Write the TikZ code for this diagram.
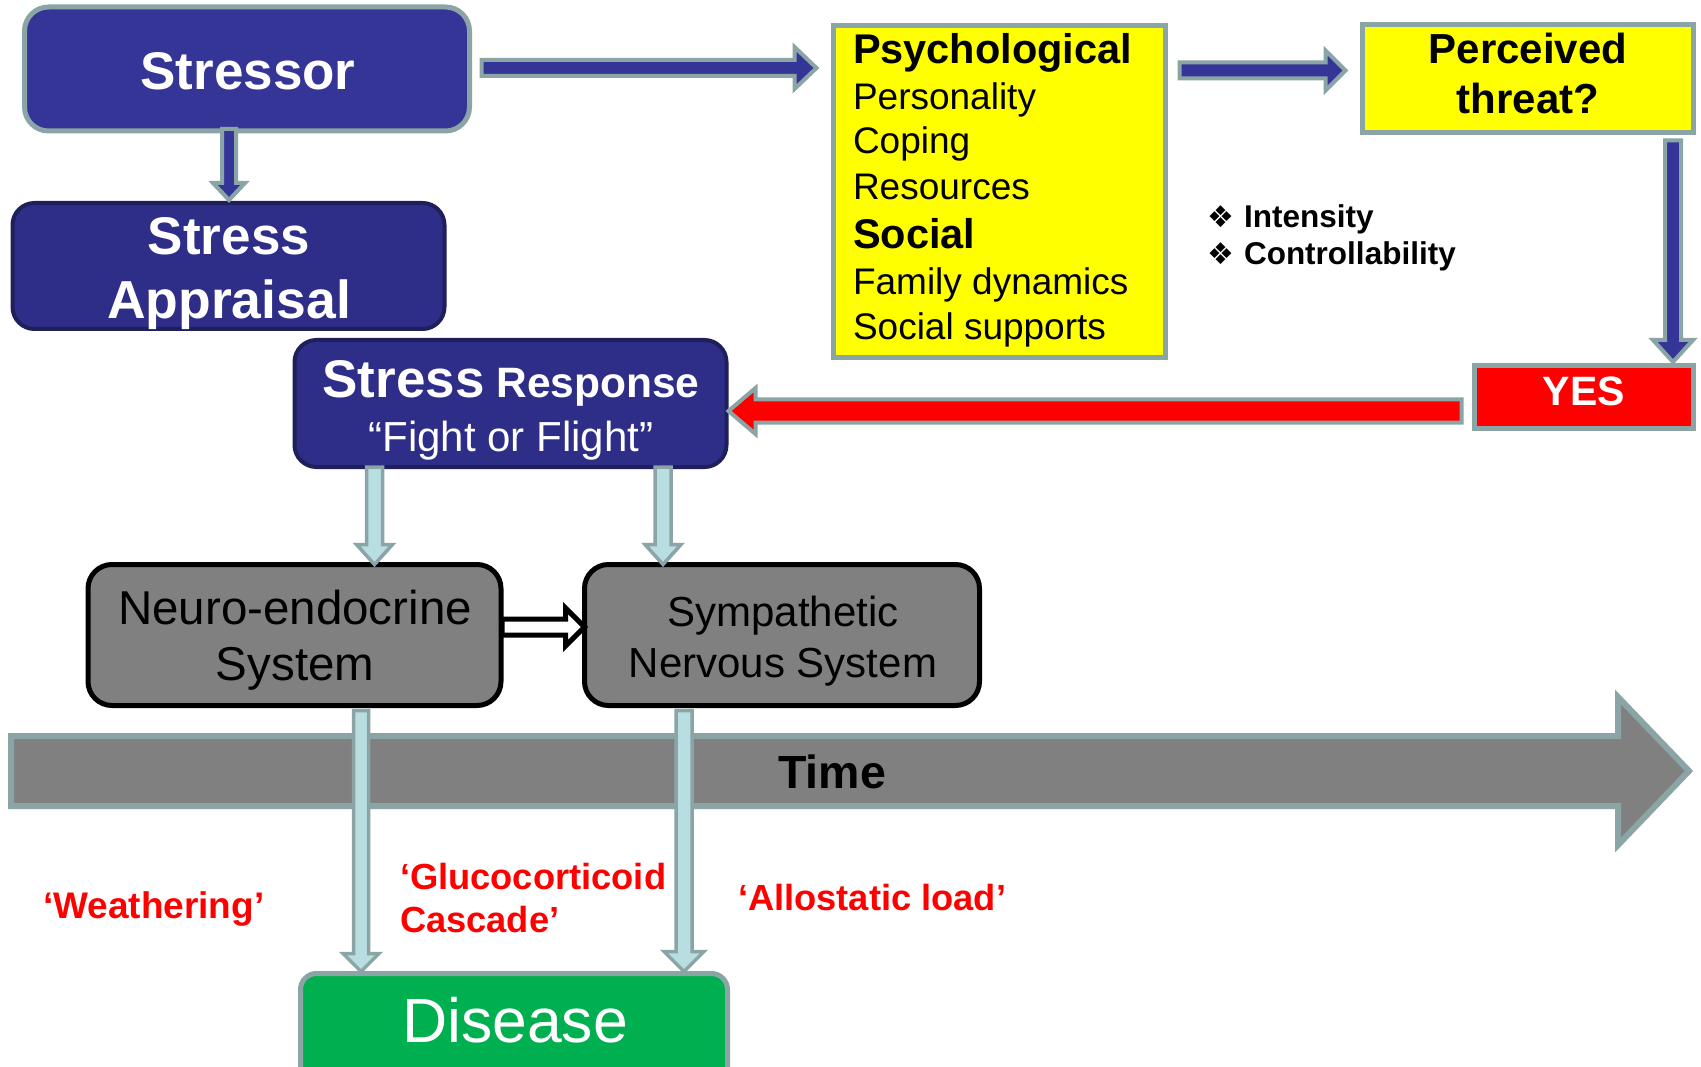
\documentclass[tikz,border=0pt]{standalone}
\usepackage{fontspec}
\setmainfont{Liberation Sans}
\newfontfamily\symfont{DejaVu Sans}
\usetikzlibrary{calc}
\newcommand{\fsz}[1]{\fontsize{#1pt}{#1pt}\selectfont}
\definecolor{stressblue}{RGB}{53,53,151}
\definecolor{navyfill}{RGB}{46,46,136}
\definecolor{navyborder}{RGB}{31,31,92}
\definecolor{tealgray}{RGB}{139,165,166}
\definecolor{lightblue}{RGB}{184,222,226}
\definecolor{midgray}{RGB}{128,128,128}
\definecolor{diseasegreen}{RGB}{0,176,80}
\definecolor{pureyellow}{RGB}{255,255,0}
\definecolor{purered}{RGB}{255,0,0}
% horizontal block arrow: style, start, tip, shaft half width, head half width, head length
\newcommand{\hblock}[6]{%
 \draw[#1] let \p1=(#2), \p2=(#3), \n1={sign(\x2-\x1)} in
 (\x1,{\y1+#4}) -- ({\x2-(\n1)*#6},{\y1+#4}) -- ({\x2-(\n1)*#6},{\y1+#5}) -- (\x2,\y1)
 -- ({\x2-(\n1)*#6},{\y1-#5}) -- ({\x2-(\n1)*#6},{\y1-#4}) -- (\x1,{\y1-#4}) -- cycle;}
% vertical block arrow
\newcommand{\vblock}[6]{%
 \draw[#1] let \p1=(#2), \p2=(#3), \n1={sign(\y2-\y1)} in
 ({\x1+#4},\y1) -- ({\x1+#4},{\y2-(\n1)*#6}) -- ({\x1+#5},{\y2-(\n1)*#6}) -- (\x1,\y2)
 -- ({\x1-#5},{\y2-(\n1)*#6}) -- ({\x1-#4},{\y2-(\n1)*#6}) -- ({\x1-#4},\y1) -- cycle;}
\tikzset{
 box/.style={rectangle, inner sep=0pt, outer sep=0pt},
 bluebox/.style={box, fill=stressblue, draw=tealgray, line width=5pt, rounded corners=24pt},
 navybox/.style={box, fill=navyfill, draw=navyborder, line width=4pt, rounded corners=22pt},
 yellowbox/.style={box, fill=pureyellow, draw=tealgray, line width=5pt},
 redbox/.style={box, fill=purered, draw=tealgray, line width=5pt},
 graybox/.style={box, fill=midgray, draw=black, line width=5pt, rounded corners=24pt},
 greenbox/.style={box, fill=diseasegreen, draw=tealgray, line width=5pt, rounded corners=16pt},
 lbl/.style={inner sep=0pt, outer sep=0pt, anchor=base},
 lblw/.style={inner sep=0pt, outer sep=0pt, anchor=base west},
 bluearrow/.style={fill=stressblue, draw=tealgray, line width=4pt, line join=miter},
 redarrow/.style={fill=purered, draw=tealgray, line width=4pt, line join=miter},
 lightarrow/.style={fill=lightblue, draw=tealgray, line width=3.5pt, line join=miter},
 hollowarrow/.style={fill=white, draw=black, line width=5pt, line join=miter},
 timearrow/.style={fill=midgray, draw=tealgray, line width=6pt, line join=miter},
 whitebold/.style={text=white, font=\bfseries},
 redlabel/.style={lblw, text=purered, font=\bfseries\fsz{37}},
}
\begin{document}
\begin{tikzpicture}[x=1pt, y=-1pt]
\clip (0,0) rectangle (1701,1067);
\useasboundingbox (0,0) rectangle (1701,1067);
\fill[white] (0,0) rectangle (1701,1067);

% Time arrow (background band)
\draw[timearrow] (11,736) -- (1618,736) -- (1618,697) -- (1689,771) -- (1618,845) -- (1618,806) -- (11,806) -- cycle;
\node[lbl, font=\bfseries\fsz{46.5}] (t-time) at (832,788) {Time};

% boxes
\node[bluebox, minimum width=445pt, minimum height=124pt] (stressor) at (247,69) {};
\node[navybox, minimum width=432pt, minimum height=126pt] (appraisal) at (228.5,266) {};
\node[navybox, minimum width=432pt, minimum height=127pt] (response) at (510.5,403.5) {};
\node[yellowbox, minimum width=332pt, minimum height=332pt] (psych) at (999.5,191.5) {};
\node[yellowbox, minimum width=331pt, minimum height=108pt] (perceived) at (1528,78.5) {};
\node[redbox, minimum width=219pt, minimum height=62pt] (yes) at (1584,397) {};
\node[graybox, minimum width=413pt, minimum height=141pt] (neuro) at (294.5,635) {};
\node[graybox, minimum width=395pt, minimum height=141pt] (symp) at (782,635) {};
\node[greenbox, minimum width=427pt, minimum height=115pt] (disease) at (514,1031) {};

% texts
\node[lbl, whitebold, font=\bfseries\fsz{53}] (t-stressor) at (248,90) {Stressor};
\node[lbl, whitebold, font=\bfseries\fsz{53}] (t-app1) at (229,255) {Stress};
\node[lbl, whitebold, font=\bfseries\fsz{53.5}] (t-app2) at (229,319) {Appraisal};
\node[lbl, text=white, font=\bfseries] (t-resp1) at (511,397) {\fsz{53}Stress\fsz{42.5} Response};
\node[lbl, text=white, font=\fsz{42}] (t-resp2) at (511,451) {“Fight or Flight”};

\node[lblw, font=\bfseries\fsz{41.5}] (t-ps1) at (853,64) {Psychological};
\node[lblw, font=\fsz{37}] (t-ps2) at (853,110) {Personality};
\node[lblw, font=\fsz{37}] (t-ps3) at (853,154) {Coping};
\node[lblw, font=\fsz{37}] (t-ps4) at (853,200) {Resources};
\node[lblw, font=\bfseries\fsz{41.5}] (t-ps5) at (853,249) {Social};
\node[lblw, font=\fsz{37}] (t-ps6) at (853,295) {Family dynamics};
\node[lblw, font=\fsz{37}] (t-ps7) at (853,340) {Social supports};

\node[lbl, font=\bfseries\fsz{42}] (t-per1) at (1528,64) {Perceived};
\node[lbl, font=\bfseries\fsz{42}] (t-per2) at (1528,114) {threat?};
\node[lbl, whitebold, font=\bfseries\fsz{41}] (t-yes) at (1584,406) {YES};

\node[lblw, font=\symfont\fsz{30}] (b-int) at (1207,228) {❖};
\node[lblw, font=\bfseries\fsz{31.5}] (t-int) at (1244,228) {Intensity};
\node[lblw, font=\symfont\fsz{30}] (b-con) at (1207,265) {❖};
\node[lblw, font=\bfseries\fsz{31.5}] (t-con) at (1244,265) {Controllability};

\node[lbl, font=\fsz{47.5}] (t-neu1) at (295,624) {Neuro-endocrine};
\node[lbl, font=\fsz{47.5}] (t-neu2) at (295,680) {System};
\node[lbl, font=\fsz{42}] (t-sym1) at (783,626) {Sympathetic};
\node[lbl, font=\fsz{42}] (t-sym2) at (783,677) {Nervous System};
\node[lbl, text=white, font=\fsz{62.5}] (t-dis) at (515,1042) {Disease};

\node[redlabel] (t-weather) at (43,918) {‘Weathering’};
\node[redlabel, font=\bfseries\fsz{36.3}] (t-gluc1) at (400,889) {‘Glucocorticoid};
\node[redlabel, font=\bfseries\fsz{36.3}] (t-gluc2) at (400,932) {Cascade’};
\node[redlabel, font=\bfseries\fsz{36.3}] (t-allo) at (738,910) {‘Allostatic load’};

% connectors
\hblock{bluearrow}{$(stressor.east)+(12,-1)$}{$(psych.west)+(-17,0)$}{8pt}{21pt}{22pt}
\hblock{bluearrow}{$(psych.east |- perceived.center)+(14,-8)$}{$(perceived.west)+(-17,0)$}{8pt}{20pt}{20pt}
\vblock{bluearrow}{$(stressor.south)+(-18,-2)$}{$(appraisal.north)+(0,-3)$}{7pt}{16pt}{17pt}
\vblock{bluearrow}{$(perceived.south)+(145,8)$}{$(yes.north)+(0,-4)$}{8pt}{20pt}{22pt}
\hblock{redarrow}{$(yes.west)+(-13,14)$}{$(response.east)+(2,0)$}{11.5pt}{23pt}{27pt}
\vblock{lightarrow}{$(response.south)+(-136,0)$}{neuro.north}{8pt}{18pt}{20pt}
\vblock{lightarrow}{$(response.south)+(152.5,0)$}{symp.north}{8pt}{18pt}{20pt}
\hblock{hollowarrow}{$(neuro.east)+(1,-8)$}{symp.west}{8pt}{19pt}{19pt}
\vblock{lightarrow}{$(neuro.south)+(66.5,5)$}{$(disease.north)+(0,-2)$}{7.5pt}{18pt}{18pt}
\vblock{lightarrow}{$(symp.south)+(-98,5)$}{$(disease.north)+(0,-2)$}{8pt}{20pt}{20pt}
\end{tikzpicture}
\end{document}
